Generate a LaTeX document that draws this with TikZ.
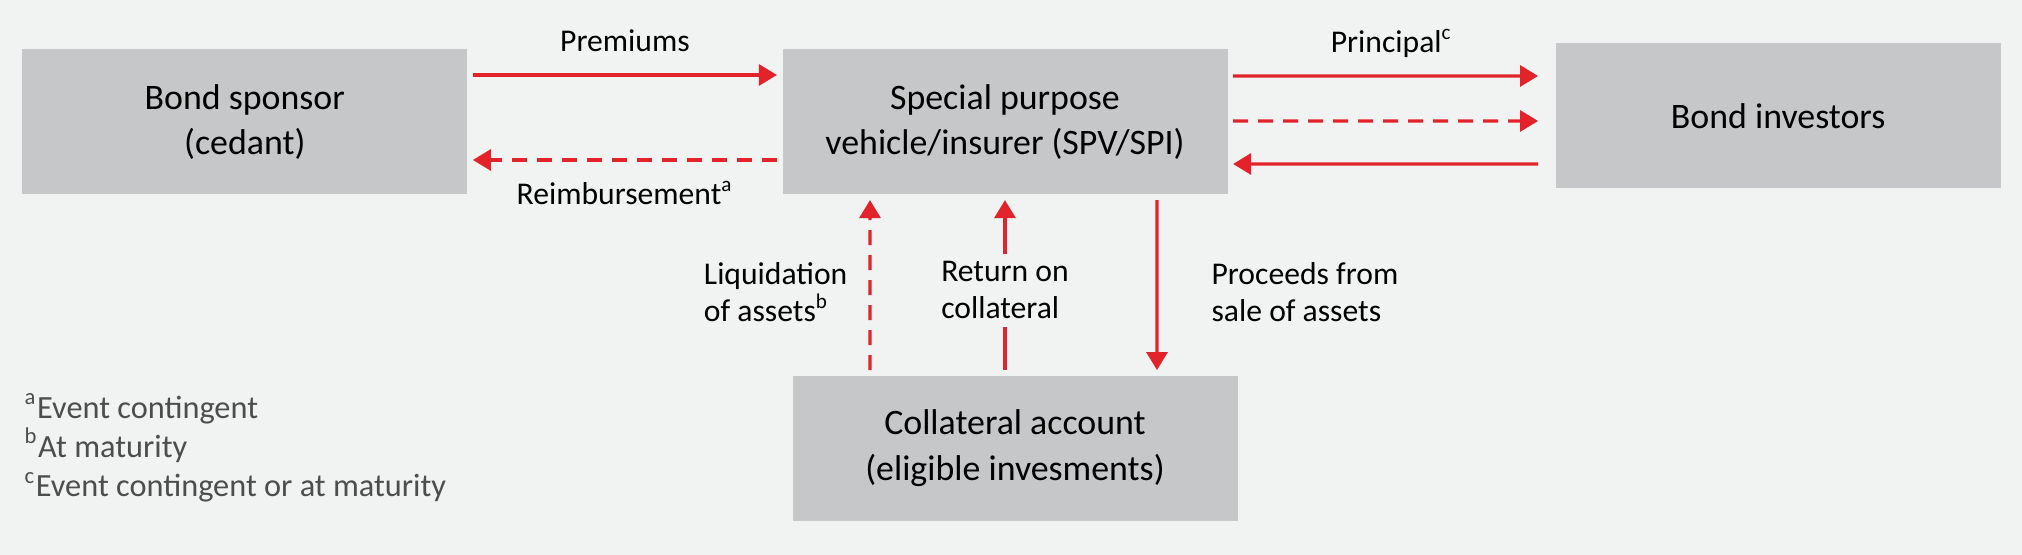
\documentclass[tikz,border=0pt]{standalone}
\usepackage{fontspec}
\setmainfont{Carlito}
\usetikzlibrary{arrows.meta}
\usetikzlibrary{positioning}
\definecolor{boebg}{RGB}{241,242,242}
\definecolor{boxgrey}{RGB}{198,199,201}
\definecolor{flowred}{RGB}{226,35,42}
\definecolor{notegrey}{RGB}{77,77,77}

\begin{document}
\begin{tikzpicture}[->,>={Triangle[length=1.8mm,width=2.1mm]},line width=0.9pt,
  box node/.style={rectangle,fill=boxgrey,minimum width=4.45cm,minimum height=1.45cm,
    align=center,font=\fontsize{10.2}{13}\selectfont},
  flow/.style={draw=flowred,color=flowred,shorten <=0.4mm,shorten >=0.4mm},
  dashed flow/.style={flow,dash pattern=on 1.5mm off 1mm},
  flow label/.style={text=black,inner sep=0pt,align=left,font=\fontsize{9}{10.5}\selectfont}]

  % background and page size
  \fill[boebg,-] (0,0) rectangle (20.22,5.55);
  \useasboundingbox (0,0) rectangle (20.22,5.55);

  \node[box node] (spv) at (10.05,4.33) {Special purpose\\vehicle/insurer (SPV/SPI)};
  \node[box node] (sponsor) [left=3.12cm of spv] {Bond sponsor\\(cedant)};
  \node[box node] (investors) [right=3.25cm of spv,yshift=0.6mm] {Bond investors};
  \node[box node] (collateral) [below=1.78cm of spv,xshift=1mm] {Collateral account\\(eligible invesments)};

  % sponsor <-> spv
  \draw[flow] ([yshift=4.7mm]sponsor.east) -- node[flow label,anchor=base,yshift=2.3mm] {Premiums} ([yshift=4.7mm]spv.west);
  \draw[dashed flow] ([yshift=-3.8mm]spv.west) -- node[flow label,anchor=base,yshift=-4.5mm] {Reimbursement\textsuperscript{a}} ([yshift=-3.8mm]sponsor.east);

  % spv <-> investors
  \draw[flow,shorten >=1.6mm] ([yshift=4.6mm]spv.east) -- node[flow label,anchor=base,yshift=2.3mm] {Principal\textsuperscript{c}} ([yshift=4.0mm]investors.west);
  \draw[dashed flow,shorten >=1.6mm] ([yshift=0.1mm]spv.east) -- ([yshift=-0.5mm]investors.west);
  \draw[flow,shorten <=1.6mm] ([yshift=-4.8mm]investors.west) -- ([yshift=-4.2mm]spv.east);

  % spv <-> collateral
  \draw[dashed flow] ([xshift=-14.5mm]collateral.north) -- node[flow label,pos=0.46,anchor=east,xshift=-2.1mm] {Liquidation\\of assets\textsuperscript{b}} ([xshift=-13.5mm]spv.south);
  \draw[flow] ([xshift=-1mm]collateral.north) -- node[flow label,pos=0.47,fill=boebg,inner xsep=0.5mm,inner ysep=0.8mm] {Return on\\collateral} (spv.south);
  \draw[flow] ([xshift=15.2mm]spv.south) -- node[flow label,pos=0.54,anchor=west,xshift=5.3mm] {Proceeds from\\sale of assets} ([xshift=14.2mm]collateral.north);

  % footnotes
  \node[inner sep=0pt,align=left,anchor=north west,text=notegrey,font=\fontsize{9.2}{11.2}\selectfont] (notes) at (0.23,1.63)
    {\textsuperscript{a}Event contingent\\\textsuperscript{b}At maturity\\\textsuperscript{c}Event contingent or at maturity};
\end{tikzpicture}
\end{document}
